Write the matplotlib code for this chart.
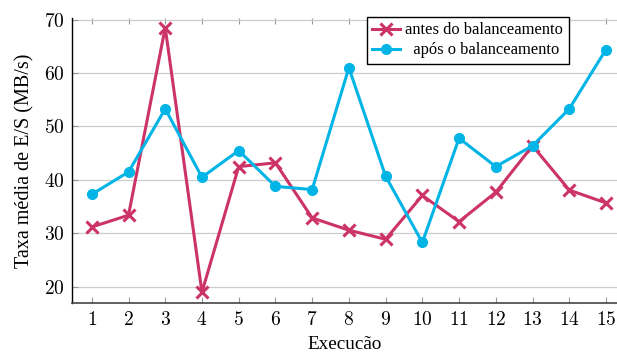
import matplotlib
matplotlib.use("Agg")
import matplotlib.pyplot as plt
import numpy as np

plt.rcParams["font.family"] = ["Liberation Serif", "DejaVu Serif"]
plt.rcParams["mathtext.fontset"] = "cm"

execucoes = list(range(1, 16))
antes = [31.2, 33.4, 68.5, 19.0, 42.5, 43.2, 32.9, 30.6, 28.9, 37.1, 32.2, 37.7, 46.4, 38.1, 35.7]
apos = [37.3, 41.5, 53.3, 40.5, 45.5, 38.8, 38.2, 61.0, 40.7, 28.3, 47.8, 42.5, 46.4, 53.3, 64.4]
yticks = [20, 30, 40, 50, 60, 70]

RED = "#CC3366"
BLUE = "#00B4E6"

fig = plt.figure(figsize=(6.17, 3.53), dpi=100)
ax = fig.add_axes([0.116, 0.142, 0.884, 0.807])

ax.plot(execucoes, antes, color=RED, linewidth=2.2, marker="x", markersize=8,
        markeredgewidth=2.2, label="antes do balanceamento", zorder=3)
ax.plot(execucoes, apos, color=BLUE, linewidth=2.2, marker="o", markersize=7,
        label="  após o balanceamento", zorder=3)

ax.set_xlim(0.45, 15.3)
ax.set_ylim(17, 70.3)
ax.set_xticks(execucoes)
ax.set_xticklabels([f"${v}$" for v in execucoes], fontsize=14)
ax.set_yticks(yticks)
ax.set_yticklabels([f"${v}$" for v in yticks], fontsize=14)
ax.tick_params(axis="both", direction="in", color="#999999", length=4, width=0.8)
ax.tick_params(axis="x", top=True, pad=6)
ax.tick_params(axis="y", pad=5)
ax.grid(True, axis="y", color="#cccccc", linewidth=0.9)
ax.set_axisbelow(True)

for side in ["top", "right"]:
    ax.spines[side].set_visible(False)
ax.spines["left"].set_color("black")
ax.spines["bottom"].set_color("#444444")
ax.spines["left"].set_linewidth(1.0)
ax.spines["bottom"].set_linewidth(1.2)

ax.set_xlabel("Execucão", fontsize=13.8, labelpad=5)
ax.set_ylabel("Taxa média de E/S (MB/s)", fontsize=14.5, labelpad=7)

leg = ax.legend(loc="upper right", bbox_to_anchor=(0.912, 1.005), fontsize=11.9,
                frameon=True, fancybox=False, framealpha=1, edgecolor="black",
                borderpad=0.35, handlelength=1.7, handletextpad=0.3, labelspacing=0.25,
                borderaxespad=0)
leg.get_frame().set_linewidth(1.0)

fig.savefig("out.png", dpi=100)
